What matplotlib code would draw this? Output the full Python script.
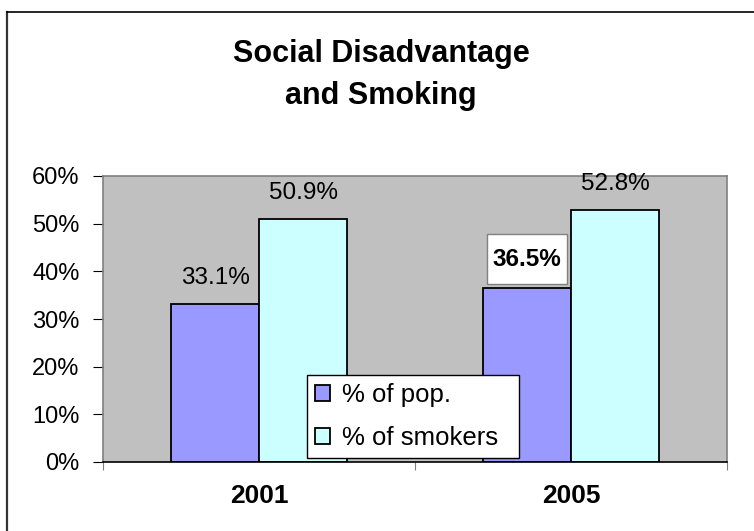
import matplotlib
matplotlib.use("Agg")
import matplotlib.pyplot as plt
from matplotlib.lines import Line2D
from matplotlib.patches import Rectangle

categories = ["2001", "2005"]
pop_values = [33.1, 36.5]
smoker_values = [50.9, 52.8]
series_names = ["% of pop.", "% of smokers"]
yticks = [0, 10, 20, 30, 40, 50, 60]

plt.rcParams['font.family'] = ['Liberation Sans', 'DejaVu Sans']

W, H = 754, 531
fig = plt.figure(figsize=(W/100, H/100), dpi=100)
fig.patch.set_facecolor('white')
# chart-area border (top and left visible)
fig.add_artist(Line2D([7/W, 7/W], [0, 1 - 12/H], transform=fig.transFigure, color='#333333', linewidth=1.6))
fig.add_artist(Line2D([7/W, 1], [1 - 12/H, 1 - 12/H], transform=fig.transFigure, color='black', linewidth=1.2))

ax_l, ax_t, ax_r, ax_b = 103, 176, 727, 462
ax = fig.add_axes([ax_l/W, 1 - ax_b/H, (ax_r-ax_l)/W, (ax_b-ax_t)/H])
ax.set_facecolor('#C0C0C0')

w = 88/312
xs = list(range(len(categories)))
ax.bar([x - w/2 for x in xs], pop_values, width=w, color='#9999FF', edgecolor='black',
       linewidth=1.3, label=series_names[0], zorder=2)
ax.bar([x + w/2 for x in xs], smoker_values, width=w, color='#CCFFFF', edgecolor='black',
       linewidth=1.3, label=series_names[1], zorder=2)

ypx = 60 / (ax_b - ax_t)   # data units per pixel
xpx = 1 / 312

lab_fs = 17.5
for i, v in enumerate(pop_values):
    if i == 1:
        ax.add_patch(Rectangle((xs[i] - w/2 - 40*xpx, v + 4*ypx), 80*xpx, 50*ypx,
                               facecolor='white', edgecolor='#808080', linewidth=1, zorder=3))
        ax.text(xs[i] - w/2, v + 29*ypx, f"{v:.1f}%", ha='center', va='center', fontsize=lab_fs,
                fontweight='bold', zorder=4)
    else:
        ax.text(xs[i] - w/2, v + 20*ypx, f"{v:.1f}%", ha='center', va='baseline', fontsize=lab_fs)
for i, v in enumerate(smoker_values):
    ax.text(xs[i] + w/2, v + 20*ypx, f"{v:.1f}%", ha='center', va='baseline', fontsize=lab_fs)

ax.set_xlim(-0.5, 1.5)
ax.set_ylim(0, 60)
ax.set_yticks(yticks)
ax.set_yticklabels([f"{t}%" for t in yticks], fontsize=17)
ax.set_xticks([-0.5, 0.5, 1.5])
ax.set_xticklabels([])
ax.set_xticks(xs, minor=True)
ax.set_xticklabels(categories, minor=True, fontsize=19, fontweight='bold')
ax.tick_params(axis='x', which='minor', length=0, pad=16)
ax.tick_params(axis='x', which='major', direction='out', length=6, color='#808080')
ax.tick_params(axis='y', direction='out', length=7, color='black', pad=10)

for s in ['top', 'right', 'left']:
    ax.spines[s].set_color('#808080')
    ax.spines[s].set_linewidth(1.2)
ax.spines['bottom'].set_color('black')
ax.spines['bottom'].set_linewidth(1.2)

lx0, ly0, lx1, ly1 = 307, 373, 519, 460
leg = ax.legend(loc='center left',
                bbox_to_anchor=((lx0-ax_l)/(ax_r-ax_l), (ax_b-ly1)/(ax_b-ax_t),
                                (lx1-lx0)/(ax_r-ax_l), (ly1-ly0)/(ax_b-ax_t)),
                mode='expand', fontsize=18.5, frameon=True, fancybox=False, framealpha=1,
                handlelength=0.6, handleheight=0.6, handletextpad=0.45, borderaxespad=0,
                labelspacing=0.75, borderpad=0.3)
leg.get_frame().set_edgecolor('black')
leg.get_frame().set_linewidth(1)
leg.set_zorder(5)

fig.text(381/W, 1 - 75/H, "Social Disadvantage\nand Smoking", ha='center', va='center',
         fontsize=22, fontweight='bold', linespacing=1.5)

fig.savefig("out.png", dpi=100)
